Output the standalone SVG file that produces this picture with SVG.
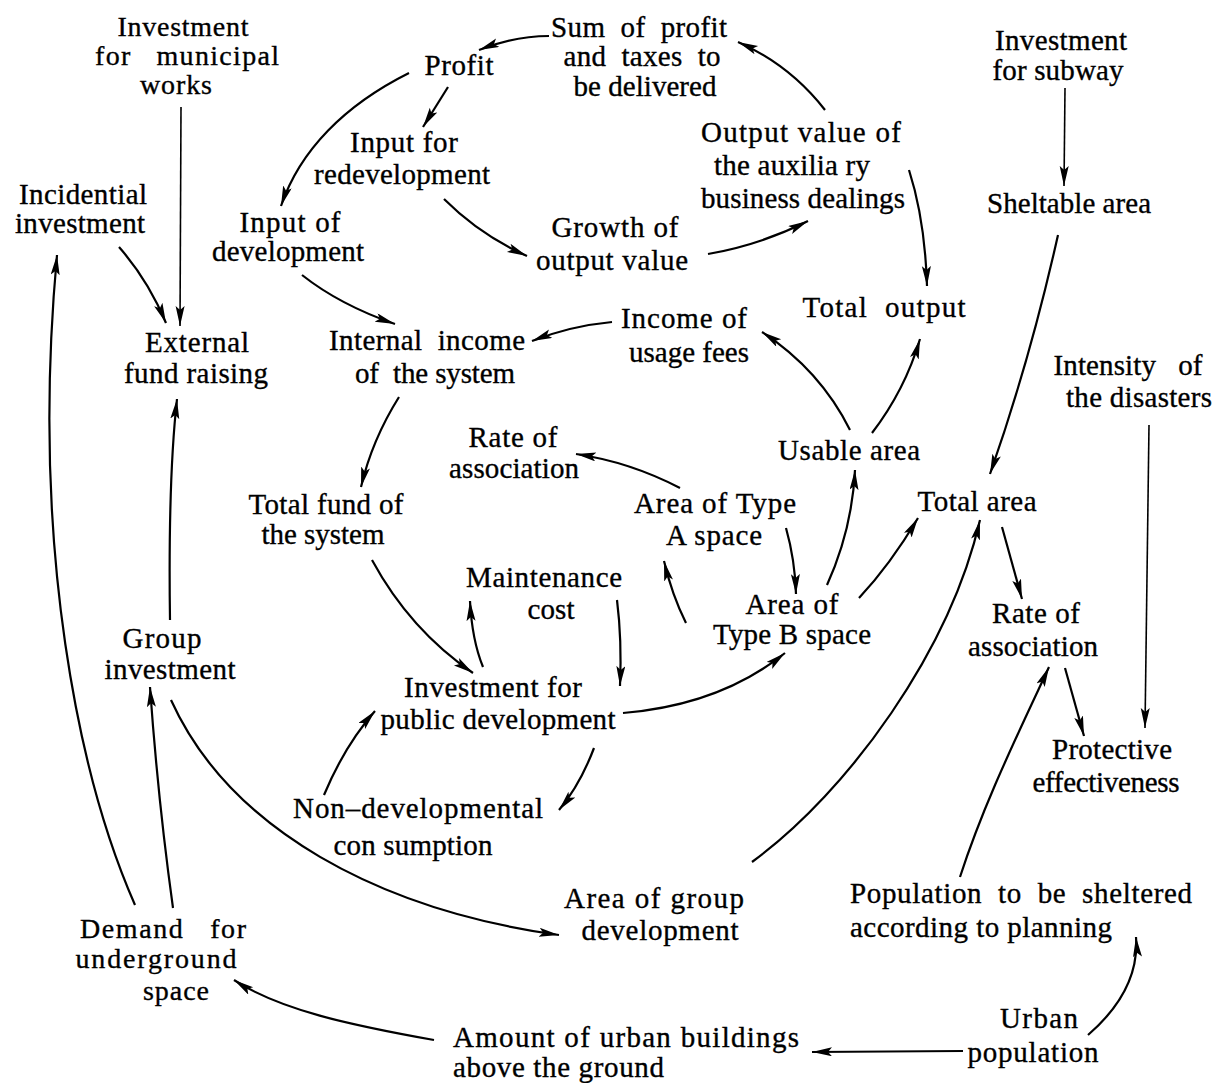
<svg xmlns="http://www.w3.org/2000/svg" width="1214" height="1083" viewBox="0 0 1214 1083">
<style>
text{font-family:"Liberation Serif","Times New Roman",serif;font-size:29px;fill:#000;stroke:#000;stroke-width:0.35;white-space:pre}
.m{text-anchor:middle}
.s28 text{font-size:28px}
.c path{fill:none;stroke:#000;stroke-width:2.2;marker-end:url(#ah)}
.c path.thin{stroke-width:1.6}
</style>
<defs>
<marker id="ah" markerUnits="userSpaceOnUse" markerWidth="24" markerHeight="12" refX="20" refY="4.5" orient="auto">
<path d="M0,0 L20,4.5 L0,9 L4,4.5 z" fill="#000"/>
</marker>
</defs>
<rect width="1214" height="1083" fill="#fff"/>
<g id="n-municipal" class="m s28">
<text x="183" y="36" textLength="131" lengthAdjust="spacing">Investment</text>
<text x="187" y="65" textLength="184" lengthAdjust="spacing">for   municipal</text>
<text x="176" y="94" textLength="72" lengthAdjust="spacing">works</text>
</g>
<g id="n-profit" class="m"><text x="459" y="75" textLength="69" lengthAdjust="spacing">Profit</text></g>
<g id="n-sum" class="m">
<text x="639" y="37" textLength="176" lengthAdjust="spacing">Sum  of  profit</text>
<text x="642" y="66" textLength="157" lengthAdjust="spacing">and  taxes  to</text>
<text x="645" y="96" textLength="143" lengthAdjust="spacing">be delivered</text>
</g>
<g id="n-redev" class="m">
<text x="404" y="152" textLength="108" lengthAdjust="spacing">Input for</text>
<text x="402" y="184" textLength="176" lengthAdjust="spacing">redevelopment</text>
</g>
<g id="n-inputdev" class="m">
<text x="290" y="232" textLength="101" lengthAdjust="spacing">Input of</text>
<text x="288" y="261" textLength="152" lengthAdjust="spacing">development</text>
</g>
<g id="n-incidential" class="m">
<text x="83" y="204" textLength="128" lengthAdjust="spacing">Incidential</text>
<text x="80" y="233" textLength="130" lengthAdjust="spacing">investment</text>
</g>
<g id="n-external" class="m">
<text x="197" y="352" textLength="104" lengthAdjust="spacing">External</text>
<text x="196" y="383" textLength="144" lengthAdjust="spacing">fund raising</text>
</g>
<g id="n-internal" class="m">
<text x="427" y="350" textLength="196" lengthAdjust="spacing">Internal  income</text>
<text x="435" y="383" textLength="160" lengthAdjust="spacing">of  the system</text>
</g>
<g id="n-growth" class="m">
<text x="615" y="237" textLength="127" lengthAdjust="spacing">Growth of</text>
<text x="612" y="270" textLength="152" lengthAdjust="spacing">output value</text>
</g>
<g id="n-outputval" class="m">
<text x="801" y="142" textLength="200" lengthAdjust="spacing">Output value of</text>
<text x="792" y="175" textLength="156" lengthAdjust="spacing">the auxilia ry</text>
<text x="803" y="208" textLength="204" lengthAdjust="spacing">business dealings</text>
</g>
<g id="n-subway" class="m">
<text x="1061" y="50" textLength="132" lengthAdjust="spacing">Investment</text>
<text x="1058" y="80" textLength="131" lengthAdjust="spacing">for subway</text>
</g>
<g id="n-sheltable" class="m"><text x="1069" y="213" textLength="164" lengthAdjust="spacing">Sheltable area</text></g>
<g id="n-totaloutput" class="m"><text x="884" y="317" textLength="163" lengthAdjust="spacing">Total  output</text></g>
<g id="n-income" class="m">
<text x="684" y="328" textLength="126" lengthAdjust="spacing">Income of</text>
<text x="689" y="362" textLength="120" lengthAdjust="spacing">usage fees</text>
</g>
<g id="n-intensity" class="m">
<text x="1128" y="375" textLength="149" lengthAdjust="spacing">Intensity   of</text>
<text x="1139" y="407" textLength="146" lengthAdjust="spacing">the disasters</text>
</g>
<g id="n-usable" class="m"><text x="849" y="460" textLength="142" lengthAdjust="spacing">Usable area</text></g>
<g id="n-totalarea" class="m"><text x="977" y="511" textLength="119" lengthAdjust="spacing">Total area</text></g>
<g id="n-rate2" class="m">
<text x="1036" y="623" textLength="88" lengthAdjust="spacing">Rate of</text>
<text x="1033" y="656" textLength="130" lengthAdjust="spacing">association</text>
</g>
<g id="n-protective" class="m">
<text x="1112" y="759" textLength="120" lengthAdjust="spacing">Protective</text>
<text x="1106" y="792" textLength="147" lengthAdjust="spacing">effectiveness</text>
</g>
<g id="n-rate1" class="m">
<text x="513" y="447" textLength="89" lengthAdjust="spacing">Rate of</text>
<text x="514" y="478" textLength="130" lengthAdjust="spacing">association</text>
</g>
<g id="n-typeA" class="m">
<text x="715" y="513" textLength="162" lengthAdjust="spacing">Area of Type</text>
<text x="714" y="545" textLength="96" lengthAdjust="spacing">A space</text>
</g>
<g id="n-totalfund" class="m">
<text x="326" y="514" textLength="155" lengthAdjust="spacing">Total fund of</text>
<text x="323" y="544" textLength="123" lengthAdjust="spacing">the system</text>
</g>
<g id="n-maintenance" class="m">
<text x="544" y="587" textLength="156" lengthAdjust="spacing">Maintenance</text>
<text x="551" y="619" textLength="47" lengthAdjust="spacing">cost</text>
</g>
<g id="n-typeB" class="m">
<text x="792" y="614" textLength="93" lengthAdjust="spacing">Area of</text>
<text x="792" y="644" textLength="158" lengthAdjust="spacing">Type B space</text>
</g>
<g id="n-groupinv" class="m">
<text x="162" y="648" textLength="79" lengthAdjust="spacing">Group</text>
<text x="170" y="679" textLength="131" lengthAdjust="spacing">investment</text>
</g>
<g id="n-invpub" class="m">
<text x="493" y="697" textLength="178" lengthAdjust="spacing">Investment for</text>
<text x="498" y="729" textLength="235" lengthAdjust="spacing">public development</text>
</g>
<g id="n-nondev" class="m">
<text x="418" y="818" textLength="250" lengthAdjust="spacing">Non–developmental</text>
<text x="413" y="855" textLength="159" lengthAdjust="spacing">con sumption</text>
</g>
<g id="n-groupdev" class="m">
<text x="654" y="908" textLength="180" lengthAdjust="spacing">Area of group</text>
<text x="660" y="940" textLength="157" lengthAdjust="spacing">development</text>
</g>
<g id="n-population">
<text x="850" y="903" textLength="342" lengthAdjust="spacing">Population  to  be  sheltered</text>
<text x="850" y="937" textLength="262" lengthAdjust="spacing">according to planning</text>
</g>
<g id="n-demand" class="m s28">
<text x="163" y="938" textLength="166" lengthAdjust="spacing">Demand   for</text>
<text x="156" y="968" textLength="161" lengthAdjust="spacing">underground</text>
<text x="176" y="1000" textLength="66" lengthAdjust="spacing">space</text>
</g>
<g id="n-urban" class="m">
<text x="1039" y="1028" textLength="78" lengthAdjust="spacing">Urban</text>
<text x="1033" y="1062" textLength="131" lengthAdjust="spacing">population</text>
</g>
<g id="n-amount">
<text x="453" y="1047" textLength="346" lengthAdjust="spacing">Amount of urban buildings</text>
<text x="453" y="1077" textLength="211" lengthAdjust="spacing">above the ground</text>
</g>
<g id="connectors" class="c">
<path d="M549,36 Q515,36 479,50"/>
<path d="M409,73 C345,105 300,150 281,206"/>
<path d="M448,87 L423,127"/>
<path d="M444,199 Q480,235 527,256"/>
<path class="thin" d="M181,107 L180,326"/>
<path d="M119,247 Q148,280 166,323"/>
<path d="M302,275 Q340,305 395,324"/>
<path d="M825,110 Q790,65 738,42"/>
<path d="M708,254 Q760,245 808,221"/>
<path d="M909,170 Q925,220 927,286"/>
<path class="thin" d="M1065,88 L1064,186"/>
<path d="M1058,235 Q1030,360 990,474"/>
<path d="M612,322 Q570,326 532,341"/>
<path d="M850,430 Q820,370 762,332"/>
<path d="M872,433 Q905,390 920,339"/>
<path d="M399,397 Q372,440 361,487"/>
<path d="M680,488 Q630,462 576,454"/>
<path d="M372,560 Q410,630 473,673"/>
<path d="M483,667 Q472,640 470,601"/>
<path d="M617,600 Q622,640 620,686"/>
<path d="M686,623 Q672,595 664,561"/>
<path d="M786,528 Q795,560 796,594"/>
<path d="M827,585 Q852,530 855,470"/>
<path d="M859,598 Q890,565 918,518"/>
<path d="M623,713 Q720,705 785,653"/>
<path d="M594,748 Q580,785 559,810"/>
<path d="M324,795 Q345,745 375,711"/>
<path d="M170,620 Q168,480 177,399"/>
<path d="M171,700 C230,830 380,910 559,935"/>
<path d="M173,908 Q158,800 150,687"/>
<path d="M135,905 C80,780 30,550 57,255"/>
<path d="M752,862 C850,790 950,650 980,520"/>
<path d="M1002,527 L1022,599"/>
<path d="M1065,668 L1084,736"/>
<path class="thin" d="M1149,425 L1145,728"/>
<path d="M960,877 C985,800 1020,730 1049,667"/>
<path d="M1088,1035 Q1140,990 1136,937"/>
<path d="M963,1051 L812,1052"/>
<path d="M434,1040 C350,1025 280,1010 234,980"/>
</g>
</svg>
